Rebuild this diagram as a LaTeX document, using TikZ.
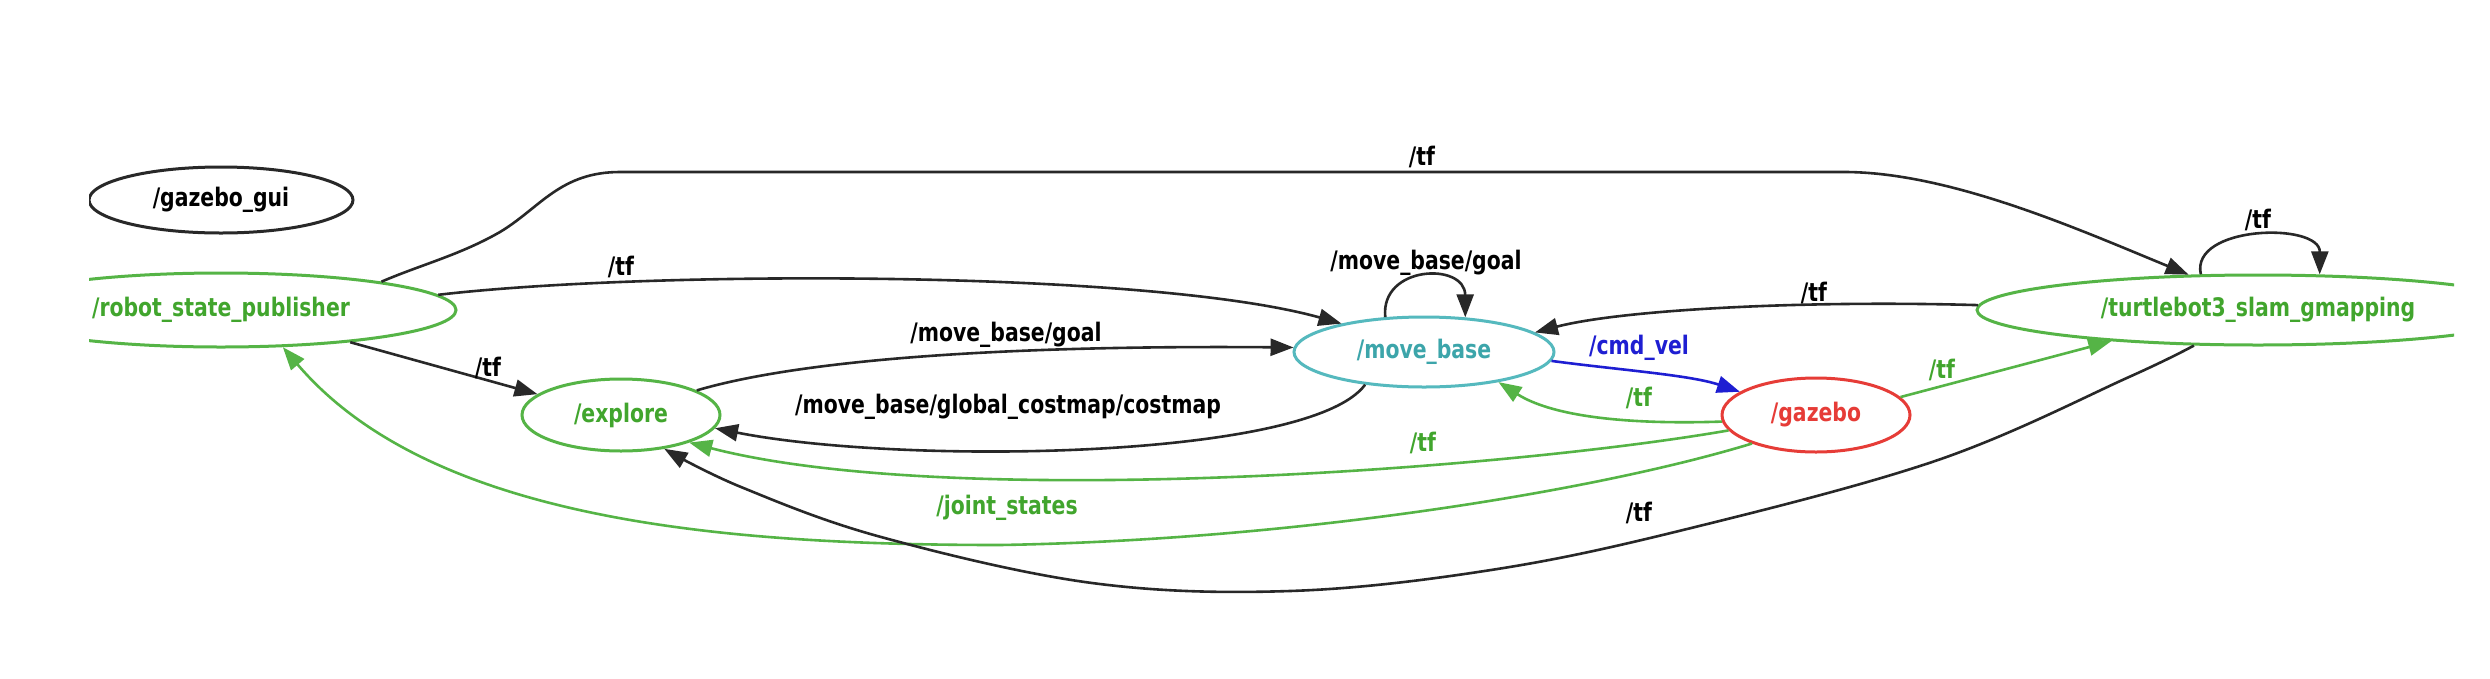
\documentclass[tikz,border=0pt]{standalone}
\usepackage{fontspec}
\newfontfamily\lblfont[FakeStretch=0.8]{DejaVu Sans}
\usetikzlibrary{shapes.geometric,arrows.meta}
\definecolor{gline}{RGB}{85,180,70}
\definecolor{gtext}{RGB}{65,165,45}
\definecolor{tline}{RGB}{85,185,190}
\definecolor{ttext}{RGB}{60,165,170}
\definecolor{rline}{RGB}{230,60,55}
\definecolor{bline}{RGB}{30,30,210}
\definecolor{dark}{RGB}{40,40,40}
\begin{document}
\begin{tikzpicture}[x=1pt,y=-1pt,
  every node/.style={font={\lblfont\bfseries\fontsize{25.5}{30}\selectfont}},
  nd/.style={ellipse, draw, line width=3pt, inner sep=0pt},
  edge/.style={line width=2.6pt, -{Triangle[length=23pt,width=17pt]}},
  lbl/.style={inner sep=0pt}
]
\path[fill=white, use as bounding box] (0,0) rectangle (2490,678);
\begin{scope}
\clip (89,0) rectangle (2454,678);
% nodes
\node[nd, draw=dark, text=black, minimum width=264pt, minimum height=66pt] (gg) at (221,200) {/gazebo\_gui};
\node[nd, draw=gline, text=gtext, minimum width=470pt, minimum height=74pt] (rsp) at (221,310) {/robot\_state\_publisher};
\node[nd, draw=gline, text=gtext, minimum width=198pt, minimum height=72pt] (ex) at (621,415) {/explore};
\node[nd, draw=tline, text=ttext, minimum width=260pt, minimum height=70pt] (mb) at (1424,352) {/move\_base};
\node[nd, draw=rline, text=rline, minimum width=188pt, minimum height=74pt] (gz) at (1816,415) {/gazebo};
\node[nd, draw=gline, text=gtext, minimum width=562pt, minimum height=70pt] (tb) at (2258,310) {/turtlebot3\_slam\_gmapping};
% edges
\draw[edge, dark] (rsp.10.9) .. controls (420,265) and (460,255) .. (500,232) .. controls (540,208) and (560,172) .. (620,172) -- (1844,172) .. controls (1950,172) and (2080,230) .. (tb.153.4);
\draw[edge, dark] (rsp.4.6) .. controls (650,270) and (1150,270) .. (mb.161.6);
\draw[edge, dark] (rsp.-14.6) -- (ex.166.8);
\draw[edge, dark] (ex.18.9) .. controls (800,360) and (1000,345) .. (mb.178);
\draw[edge, dark] (mb.-151) .. controls (1310,460) and (900,465) .. (ex.-8.5);
\draw[edge, dark] (mb.138.6) .. controls (1380,265) and (1465,262) .. (mb.40.7);
\draw[edge, dark] (tb.179) .. controls (1800,300) and (1620,310) .. (mb.10.6);
\draw[edge, bline] (mb.-4.4) .. controls (1620,370) and (1690,375) .. (gz.163.2);
\draw[edge, gline] (gz.184.9) .. controls (1620,425) and (1550,415) .. (mb.-22.7);
\draw[edge, gline] (gz.12.1) -- (tb.192.8);
\draw[edge, gline] (gz.190.5) .. controls (1500,470) and (950,510) .. (ex.-22.1);
\draw[edge, gline] (gz.204) .. controls (1600,490) and (1300,540) .. (1000,545) .. controls (720,545) and (430,520) .. (rsp.-31.9);
\draw[edge, dark] plot[smooth, tension=0.6] coordinates {(tb.209.4) (2129,377) (1938,460) (1683,530) (1491,570) (1290,591) (1092,583) (881,537) (741,487) (ex.-38.8)};
\draw[edge, dark] (tb.148) .. controls (2190,225) and (2320,222) .. (tb.30.3);
% labels
\node[lbl, text=black] (l1) at (1422,157) {/tf};
\node[lbl, text=black] (l2) at (621,267) {/tf};
\node[lbl, text=black] (l3) at (488,368) {/tf};
\node[lbl, text=black] (l4) at (1006,335) {/move\_base/goal};
\node[lbl, text=black] (l5) at (1008,407) {/move\_base/global\_costmap/costmap};
\node[lbl, text=black] (l6) at (1426,263) {/move\_base/goal};
\node[lbl, text=black] (l7) at (1814,293) {/tf};
\node[lbl, text=bline] (l8) at (1639,348) {/cmd\_vel};
\node[lbl, text=gtext] (l9) at (1639,398) {/tf};
\node[lbl, text=gtext] (l10) at (1942,370) {/tf};
\node[lbl, text=gtext] (l11) at (1423,443) {/tf};
\node[lbl, text=gtext] (l12) at (1007,508) {/joint\_states};
\node[lbl, text=black] (l13) at (1639,513) {/tf};
\node[lbl, text=black] (l14) at (2258,220) {/tf};
\end{scope}
\end{tikzpicture}
\end{document}
